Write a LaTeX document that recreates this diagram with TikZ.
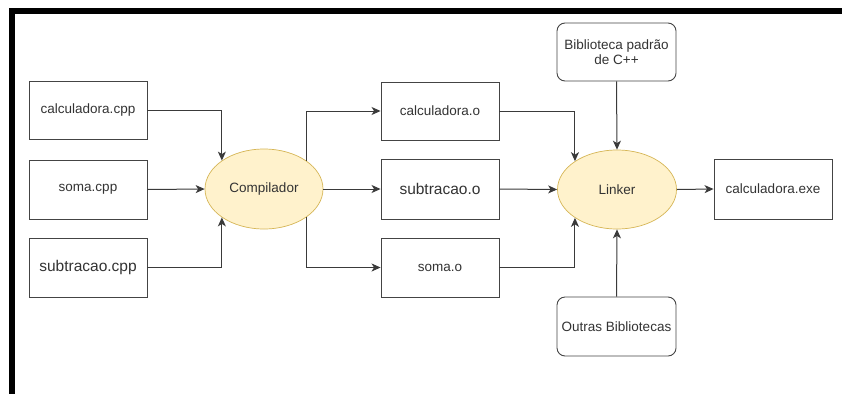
\documentclass[tikz,border=0pt]{standalone}
\usepackage{fontspec}
\setmainfont{Liberation Sans}
\usetikzlibrary{shapes.geometric,arrows.meta}
\definecolor{ln}{HTML}{3A3A3A}
\definecolor{bx}{HTML}{444444}
\definecolor{txt}{HTML}{333333}
\definecolor{efill}{HTML}{FFF2CC}
\definecolor{estroke}{HTML}{D6B656}
\begin{document}
\begin{tikzpicture}[x=1pt,y=-1pt,
  box/.style={draw=bx,line width=0.9pt,fill=white,minimum width=118pt,minimum height=58pt,inner sep=0pt,text=txt,font=\fontsize{13.5}{15.5}\selectfont,align=center},
  bigtxt/.style={font=\fontsize{15.5}{17}\selectfont},
  rbox/.style={box,rounded corners=8pt,minimum width=119pt},
  proc/.style={ellipse,draw=estroke,line width=0.7pt,fill=efill,minimum width=118pt,minimum height=80pt,inner sep=0pt,text=txt,font=\fontsize{13.5}{15.5}\selectfont},
  arr/.style={draw=ln,line width=1pt,-{Stealth[length=9pt,width=8pt,inset=2.5pt]}}]
\useasboundingbox (0,0) rectangle (842,394);
\fill[white] (0,0) rectangle (842,394);
\fill[black] (9,8) rectangle (842,14);
\fill[black] (9,8) rectangle (15,394);

\node[box] (cpp1) at (88,110) {calculadora.cpp};
\node[box,minimum height=59pt] (cpp2) at (88,189.5) {soma.cpp};
\node[box,bigtxt,minimum height=59pt] (cpp3) at (88,267.5) {subtracao.cpp};

\node[proc] (comp) at (264,189) {Compilador};

\node[box] (o1) at (440,111) {calculadora.o};
\node[box,bigtxt,minimum height=60pt] (o2) at (440,189) {subtracao.o};
\node[box,minimum height=59pt] (o3) at (440,267.5) {soma.o};

\node[proc,minimum width=119pt,minimum height=79pt] (link) at (617,189.5) {Linker};

\node[rbox] (bib) at (616.5,52) {Biblioteca padrão\\de C++};
\node[rbox,minimum height=59pt] (outras) at (616.5,326.5) {Outras Bibliotecas};
\node[box,minimum height=60pt] (exe) at (773,189) {calculadora.exe};

\draw[arr] (cpp1.east) -| (comp.146);
\draw[arr] (cpp2.east) -- (comp.west);
\draw[arr] (cpp3.east) -| (comp.214);

\draw[arr] (comp.34) |- (o1.west);
\draw[arr] (comp.east) -- (o2.west);
\draw[arr] (comp.-34) |- (o3.west);

\draw[arr] (o1.east) -| (link.146);
\draw[arr] (o2.east) -- (link.west);
\draw[arr] (o3.east) -| (link.214);

\draw[arr] (bib.south) -- (link.north);
\draw[arr] (outras.north) -- (link.south);
\draw[arr] (link.east) -- (exe.west);
\end{tikzpicture}
\end{document}
